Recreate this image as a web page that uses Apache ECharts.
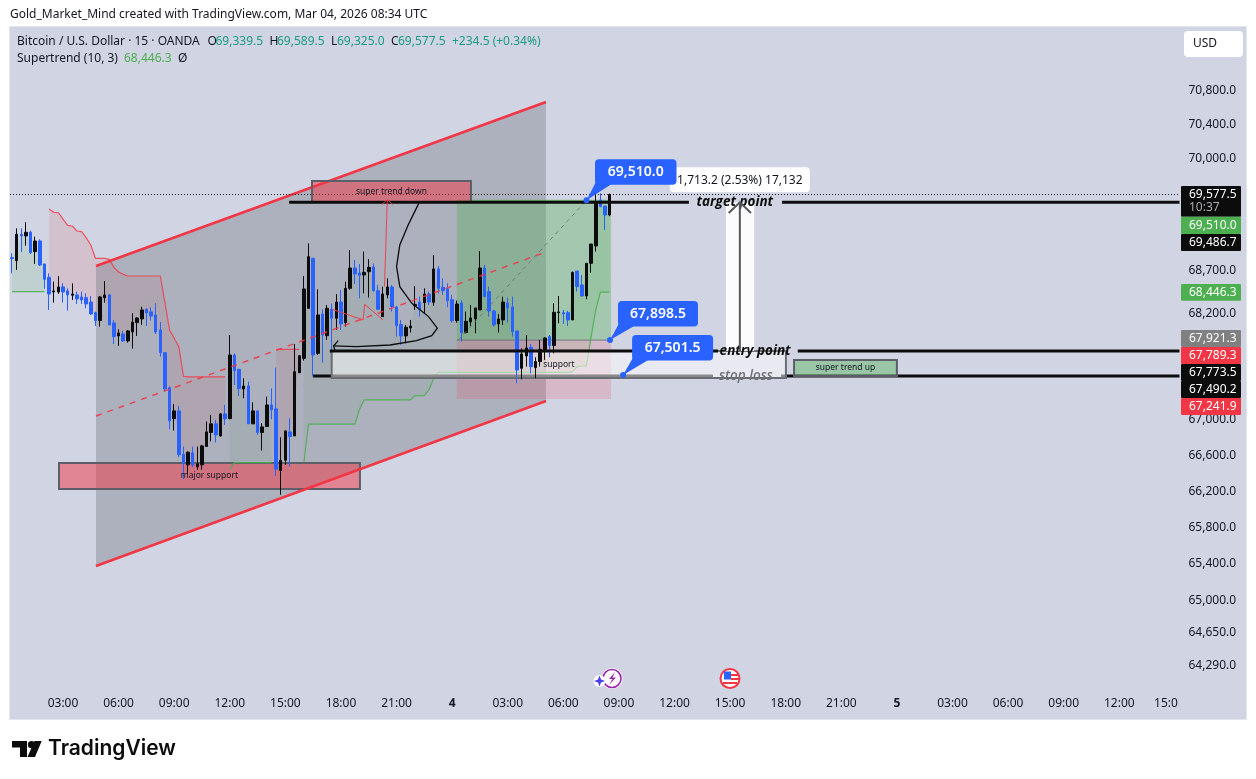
<!DOCTYPE html>
<html><head><meta charset="utf-8">
<style>html,body{margin:0;padding:0;background:#fff}#c{width:1256px;height:779px}</style>
<script src="https://cdn.jsdelivr.net/npm/echarts@6/dist/echarts.min.js"></script>
</head><body><div id="c"></div>
<script>
// [open, close, low, high] for the bars 00:15 Mar 3 .. 08:30 Mar 4 (15 min)
const candles = [
[68844,68833,68664,68895],[68810,69115,68702,69184],[69115,69095,68910,69184],[69095,69138,68983,69254],[69138,68902,68887,69157],
[68914,69037,68772,69088],[69037,68760,68748,69057],[68772,68595,68487,68772],[68618,68426,68243,68664],[68449,68461,68327,68568],
[68449,68507,68426,68633],[68507,68449,68327,68549],[68461,68415,68235,68491],[68411,68426,68357,68549],[68415,68369,68312,68453],
[68392,68357,68312,68453],[68384,68312,68262,68434],[68334,68197,68186,68403],[68212,68121,68060,68224],[68121,68392,68052,68403],
[68384,68415,68327,68575],[68415,68071,68071,68426],[68094,67938,67854,68128],[67946,67980,67832,68022],[67968,67889,67877,68003],
[67889,68003,67870,68014],[67991,68105,67801,68205],[68098,68151,67946,68159],[68140,68243,68071,68281],[68250,68208,68060,68262],
[68220,68174,68121,68273],[68186,67991,67968,68319],[68014,67756,67710,68105],[67756,67344,67314,67756],[67359,66985,66891,67371],
[67010,67097,66876,67175],[67097,66604,66578,67153],[66611,66511,66333,66697],[66492,66634,66388,66641],[66626,66489,66466,66697],
[66470,66503,66437,66697],[66492,66704,66437,66716],[66697,66861,66697,66977],[66854,66951,66753,67052],[66951,66827,66742,66996],
[66816,67063,66809,67071],[67063,67007,66939,67164],[67010,67729,67003,67957],[67729,67552,67389,67748],[67567,67348,67266,67567],
[67344,67378,67239,67465],[67378,66951,66951,67427],[66951,67097,66951,67194],[67097,66854,66827,67097],[66854,66917,66652,66958],
[66921,67164,66921,67258],[67164,67108,67003,67352],[67119,66444,66370,67586],[66429,66544,66159,66801],[66544,66872,66492,66876],
[66861,66809,66474,67014],[66816,67540,66816,67854],[67529,67721,67522,67721],[67691,68484,67665,68633],[68262,68856,68262,69010],
[68837,67730,67484,68837],[67748,68186,67730,68480],[68197,67957,67642,68250],[67949,68262,67900,68300],[68250,68148,67767,68319],
[68148,68334,68015,68426],[68334,68083,68015,68472],[68098,68491,68053,68568],[68491,68725,68472,68933],[68725,68656,68541,68817],
[68667,68641,68376,68771],[68645,68675,68434,68914],[68683,68733,68384,68829],[68737,68464,68453,68779],[68464,68250,68250,68530],
[68167,68426,68167,68510],[68415,68507,68376,68606],[68507,68281,68224,68530],[68277,68064,67938,68288],[68076,67946,67843,68129],
[67946,68045,67862,68072],[68037,68060,67984,68129],[68292,68307,68243,68518],[68334,68250,68167,68396],[68327,68426,68205,68491],
[68426,68334,68300,68453],[68330,68714,68288,68875],[68714,68491,68434,68748],[68503,68464,68415,68606],[68487,68350,68273,68549],
[68361,68121,68098,68415],[68121,68311,68098,68350],[68323,67984,67881,68357],[67984,68114,67976,68224],[68106,68152,68060,68300],
[68140,68266,67976,68266],[68243,68725,68243,68921],[68725,68396,68388,68760],[68453,68231,68167,68510],[68231,68072,68053,68243],
[68083,68140,67984,68197],[68129,68334,68072,68396],[68323,68266,68098,68384],[68277,67995,67938,68396],[68003,67559,67408,68007],
[67578,67741,67453,67805],[67718,67809,67597,67957],[67817,67597,67521,67855],[67586,67654,67465,67703],[67654,67794,67597,67900],
[67786,67923,67673,67930],[67938,67836,67703,67957],[67836,68216,67748,68319],[68212,68220,68091,68403],[68212,68197,68083,68243],
[68212,68129,68060,68235],[68129,68675,68129,68683],[68690,68510,68453,68690],[68530,68403,68396,68645],[68403,68779,68365,68779],
[68779,69002,68671,69002],[68979,69494,68914,69661],[69513,69435,69435,69591],[69443,69339,69165,69443],[69339.5,69577.5,69325,69589.5]
];
const n = null;
const supertrendDown = [n,n,n,n,n,n,n,n,
69409,69370,69366,69292,69219,69211,69153,69146,68991+85,68991,68837,68837,68837,68825,68733,68679,68652,
68633,68633,68633,68633,68633,68633,68633,68633,68327,68014,67919,67824,67488,
67480,67480,67480,67480,67480,67480,67480,67480,67480,
n,n,n,n,n,n,n,n,n,n,
67794,67794,67794,67794,67794,67794,
n,n];
const supertrendUp = [68453,68453,68453,68453,68453,68453,68453,68453,
n,n,n,n,n,n,n,n,n,n,n,n,n,n,n,n,n,n,n,n,n,n,n,n,n,n,n,n,n,n,n,n,n,n,n,n,n,n,n,
66437,66518,66518,66518,66518,66518,66518,66518,66518,66518,
n,n,n,n,n,n,
66518,66947,66947,66947,66947,66947,66947,66947,66947,66947,66947,66947,67114,
67220,67220,67220,67220,67220,67220,67220,67220,67220,67220,67220,
67269,67269,67269,67333,67465,
67532,67532,67532,67532,67532,67532,67532,67532,67532,67532,67532,67532,67532,67532,67532,
67532,67532,67532,67532,67532,67532,67532,67532,67532,67532,67532,67532,67532,67532,
67540,67597,67604,67604,67938,68243,68446.3,68446.3,68446.3];
const priceTicks = [70800,70400,70000,68700,68200,67000,66600,66200,65800,65400,65000,64650,64290];
const timeLabels = ['','03:00','06:00','09:00','12:00','15:00','18:00','21:00','4','03:00','06:00','09:00','12:00','15:00','18:00','21:00','5','03:00','06:00','09:00','12:00','15:0'];

// drawing tools, in [bar index, price]
const channelTop = [[19.12,68748],[116.25,70666]];
const channelBottom = [[19.12,65373],[116.25,67208]];
const channelMid = [[19.12,67039],[116.25,68910]];
const zoneX = [97.0,130.3];
const zonePrices = [69510,67898.5,67230];
const superDownBox = [[65.75,69735],[100.06,69490]];
const majorSupportBox = [[11.14,66512],[76.1,66223]];
const superUpBox = [[169.8,67673],[192.0,67490.2]];
const positionBox = [[70.0,67773.5],[168.05,67468]];
const closePrice = 69577.5, targetPrice = 69486.7, entryPrice = 67773.5, stopPrice = 67490.2;
const rangeBar = [155.1,161.2], rangeX = 158.1;
const curve = [[88.8,69474],[86.5,69223],[84.7,68991],[84.0,68741],[84.7,68510],[87.3,68319],[90.9,68167],[92.8,68034],[91.6,67949],[88.3,67892],[82.6,67843],[75.4,67824],[70.4,67832]];
const curveHead = [[71.4,67892],[70.4,67832],[70.7,67786]];
const redArrow = [[81.4,68510],[82.0,69516]];
const redArrowHead = [[80.8,69462],[82.0,69516],[83.2,69462]];
const zigzag = [[70.1,68250],[76.8,68129],[77.1,68307],[81.1,68129]];
const longDash = [[97.3,67898.5],[125.0,69510]];
const callouts = [
 {at:[125.0,69510],text:'69,510.0',dx:8.5,dy:-41,w:81.5},
 {at:[130.07,67898.5],text:'67,898.5',dx:8,dy:-39,w:80},
 {at:[132.9,67501.5],text:'67,501.5',dx:9,dy:-40,w:81}
];

const FONT = '"Noto Sans", sans-serif';
const INK = '#131722', BLUE = '#2962ff', RED = '#f23645', GREEN = '#4caf50', BLACK = '#0c0c0c';

function layer(z, build){
  return {type:'custom',coordinateSystem:'cartesian2d',z:z,silent:true,clip:false,data:[[0,70000]],encode:{x:0,y:1},
    renderItem:(p,api)=>({type:'group',children:build(c=>api.coord(c))})};
}
const line=(P,pts,color,w,dash)=>({type:'polyline',shape:{points:pts.map(P)},style:{fill:null,stroke:color,lineWidth:w,lineDash:dash||null}});
const poly=(P,pts,fill)=>({type:'polygon',shape:{points:pts.map(P)},style:{fill:fill}});
function box(P,b,fill,stroke,w){
  const a=P(b[0]),c=P(b[1]);
  return {type:'rect',shape:{x:a[0],y:a[1],width:c[0]-a[0],height:c[1]-a[1]},style:{fill:fill,stroke:stroke||null,lineWidth:w||0}};
}
function label(P,at,text,font,fill){
  const a=P(at);
  return {type:'text',style:{x:a[0],y:a[1],text:text,font:font,fill:fill,textAlign:'center',textVerticalAlign:'middle'}};
}
function stFill(P,arr,color){
  const out=[];let seg=[];
  const flush=()=>{ if(seg.length>1){
      const top=seg.map(k=>[k+1,arr[k]]);
      const bot=seg.slice().reverse().map(k=>[k+1,(candles[k][0]+candles[k][1])/2]);
      out.push(poly(P,top.concat(bot),color));
    } seg=[]; };
  arr.forEach((v,k)=>{ if(v===null||v===undefined) flush(); else seg.push(k); });
  flush();
  return out;
}

const bottomLayer = layer(2,P=>[
  ...stFill(P,supertrendDown,'rgba(242,54,69,0.12)'),
  ...stFill(P,supertrendUp,'rgba(76,175,80,0.12)'),
  poly(P,[channelTop[0],channelTop[1],channelBottom[1],channelBottom[0]],'rgba(120,123,134,0.4)'),
  box(P,[[zoneX[0],zonePrices[0]],[zoneX[1],zonePrices[1]]],'rgba(76,175,80,0.35)'),
  box(P,[[zoneX[0],zonePrices[1]],[zoneX[1],zonePrices[2]]],'rgba(242,54,69,0.17)'),
  line(P,[[zoneX[0],zonePrices[0]],[zoneX[1],zonePrices[0]]],'rgba(76,175,80,0.7)',1),
  line(P,[[zoneX[0],zonePrices[1]],[zoneX[1],zonePrices[1]]],'rgba(110,110,120,0.9)',1),
  box(P,majorSupportBox,'rgba(242,54,69,0.5)','#5d5f68',2)
]);
const stopLayer = layer(4,P=>[
  line(P,[[66.0,stopPrice],[152.3,stopPrice]],BLACK,3),
  line(P,[[167.0,stopPrice],[253,stopPrice]],BLACK,3),
  box(P,positionBox,'rgba(255,255,255,0.52)','#6b6d75',2),
  label(P,[159.4,stopPrice],'stop loss','italic 600 13.5px "Open Sans",sans-serif','#6f7177')
]);
const topLayer = layer(6,P=>{
  const tip=P([rangeX,targetPrice]);
  return [
  line(P,channelTop,RED,2.5),
  line(P,channelBottom,RED,2.5),
  line(P,channelMid,'rgba(242,54,69,0.85)',1.5,[6,6]),
  line(P,longDash,'rgba(110,113,124,0.85)',1,[4,4]),
  line(P,[[0.56,closePrice],[253,closePrice]],BLACK,1,[1,2]),
  box(P,superDownBox,'rgba(242,54,69,0.5)','#5d5f68',2),
  label(P,[82.9,69612],'super trend down','8.5px '+FONT,INK),
  label(P,[43.6,66367],'major support','8.5px '+FONT,INK),
  label(P,[119.05,67615],'support','8.5px '+FONT,INK),
  line(P,[[60.8,targetPrice],[147.1,targetPrice]],BLACK,3),
  line(P,[[167.2,targetPrice],[253,targetPrice]],BLACK,3),
  line(P,[[69.6,entryPrice],[153.4,entryPrice]],BLACK,3),
  line(P,[[170.6,entryPrice],[253,entryPrice]],BLACK,3),
  box(P,[[rangeBar[0],targetPrice],[rangeBar[1],entryPrice]],'rgba(255,255,255,0.9)'),
  label(P,[157.0,targetPrice],'target point','italic 700 13.5px "Open Sans",sans-serif',BLACK),
  label(P,[161.4,entryPrice],'entry point','italic 700 13.5px "Open Sans",sans-serif',BLACK),
  line(P,[[rangeX,entryPrice],[rangeX,targetPrice]],'#55565c',2),
  line(P,[[155.7,69362],[rangeX,targetPrice],[160.5,69362]],'#55565c',2),
  box(P,superUpBox,'rgba(76,175,80,0.4)','#5d5f68',2),
  label(P,[180.9,67581],'super trend up','8.5px '+FONT,INK),
  line(P,curve,BLACK,1.3),
  line(P,curveHead,BLACK,1.3),
  line(P,redArrow,'rgba(242,54,69,0.9)',1),
  line(P,redArrowHead,'rgba(242,54,69,0.9)',1),
  line(P,zigzag,'rgba(242,54,69,0.9)',1),
  {type:'rect',shape:{x:tip[0]-70,y:tip[1]-35,width:140,height:25,r:4},style:{fill:'#fff'}},
  {type:'text',style:{x:tip[0],y:tip[1]-22,text:'1,713.2 (2.53%) 17,132',font:'12px '+FONT,fill:INK,textAlign:'center',textVerticalAlign:'middle'}},
  ...callouts.flatMap(c=>{
    const a=P(c.at), bx=a[0]+c.dx, by=a[1]+c.dy, h=25.5;
    return [
      {type:'polygon',shape:{points:[[a[0],a[1]],[bx+1,by+h-3],[bx+17,by+h-1]]},style:{fill:BLUE}},
      {type:'rect',shape:{x:bx,y:by,width:c.w,height:h,r:4},style:{fill:BLUE}},
      {type:'circle',shape:{cx:a[0],cy:a[1],r:3},style:{fill:BLUE}},
      {type:'text',style:{x:bx+c.w/2,y:by+h/2,text:c.text,font:'600 14px '+FONT,fill:'#fff',textAlign:'center',textVerticalAlign:'middle'}}
    ];
  })
];});

function t(x,y,text,fill,font,extra){
  return Object.assign({type:'text',z:100,silent:true,x:x,y:y,style:{text:text,fill:fill||INK,font:font||('12px '+FONT),verticalAlign:'middle',align:'left'}},extra||{});
}
function tag(y0,y1,color,text,sub){
  const h=y1-y0;
  const els=[{type:'rect',z:90,silent:true,shape:{x:1181,y:y0,width:60,height:h,r:1},style:{fill:color}}];
  els.push(t(1189,sub?y0+8.5:y0+h/2,text,'#fff','12px '+FONT,{z:100}));
  if(sub) els.push(t(1189,y0+22,sub,'#a9abb0','12px '+FONT));
  return els;
}
const TEAL='#1a9b86';
const graphics=[
  {type:'rect',z:-10,silent:true,shape:{x:9.5,y:26.5,width:1237,height:693},style:{fill:'#d1d4e2',stroke:'#e4e6ee',lineWidth:1}},
  t(10,15,'Gold_Market_Mind created with TradingView.com, Mar 04, 2026 08:34 UTC'),
  t(17,42,'Bitcoin / U.S. Dollar · 15 · OANDA'),
  t(207.5,42,'O'),t(215.5,42,'69,339.5',TEAL),
  t(269.5,42,'H'),t(277,42,'69,589.5',TEAL),
  t(331,42,'L'),t(337,42,'69,325.0',TEAL),
  t(391,42,'C'),t(398,42,'69,577.5',TEAL),
  t(452,42,'+234.5 (+0.34%)',TEAL),
  t(17,59,'Supertrend (10, 3)'),t(124,59,'68,446.3',GREEN),t(178,59,'Ø'),
  {type:'rect',z:90,silent:true,shape:{x:1184,y:31,width:59,height:26,r:4},style:{fill:'#fff'}},
  t(1193,44,'USD'),
  ...tag(186,216.7,BLACK,'69,577.5','10:37'),
  ...tag(216.7,234,GREEN,'69,510.0'),
  ...tag(234,251,BLACK,'69,486.7'),
  ...tag(284,300.7,GREEN,'68,446.3'),
  ...tag(330,347,'#808080','67,921.3'),
  ...tag(347,364,RED,'67,789.3'),
  ...tag(364,381,BLACK,'67,773.5'),
  ...tag(381,398,BLACK,'67,490.2'),
  ...tag(398,415,RED,'67,241.9'),
  // TradingView mark
  {type:'polygon',z:100,silent:true,shape:{points:[[12,741],[27,741],[27,757],[20,757],[20,747.5],[12,747.5]]},style:{fill:BLACK}},
  {type:'circle',z:100,silent:true,shape:{cx:31.5,cy:744.7,r:3.6},style:{fill:BLACK}},
  {type:'polygon',z:100,silent:true,shape:{points:[[34.5,741],[41.7,741],[35,757],[27.5,757]]},style:{fill:BLACK}},
  t(48,749,'TradingView',BLACK,'600 21px Inter,sans-serif'),
  // event icons
  {type:'circle',z:100,silent:true,shape:{cx:612,cy:678.5,r:10.5},style:{fill:'#fff'}},
  {type:'circle',z:100,silent:true,shape:{cx:612,cy:678.5,r:9},style:{fill:'none',stroke:'#9c27b0',lineWidth:1.6}},
  {type:'polygon',z:100,silent:true,shape:{points:[[615,672],[609,679],[612.5,679],[609,685],[616,677.5],[612.5,677.5]]},style:{fill:'#9c27b0'}},
  {type:'circle',z:100,silent:true,shape:{cx:599.5,cy:681,r:6},style:{fill:'#fff'}},
  {type:'polygon',z:100,silent:true,shape:{points:[[599.5,675.5],[601,679.5],[605,681],[601,682.5],[599.5,686.5],[598,682.5],[594,681],[598,679.5]]},style:{fill:'#4a3df0'}},
  {type:'circle',z:100,silent:true,shape:{cx:730,cy:678.5,r:9.5},style:{fill:'#fff',stroke:RED,lineWidth:2}},
  {type:'rect',z:100,silent:true,shape:{x:731,y:674,width:7,height:2},style:{fill:RED}},
  {type:'rect',z:100,silent:true,shape:{x:731,y:678,width:8,height:2},style:{fill:RED}},
  {type:'rect',z:100,silent:true,shape:{x:723,y:682,width:14,height:2},style:{fill:RED}},
  {type:'rect',z:100,silent:true,shape:{x:724,y:671.5,width:7,height:8},style:{fill:'#2962ff'}}
];

const chart=echarts.init(document.getElementById('c'),null,{renderer:'canvas'});
chart.setOption({
  animation:false,
  backgroundColor:'#fff',
  graphic:{elements:graphics},
  grid:{left:7.4,right:76.5,top:28,bottom:89,containLabel:false},
  tooltip:{show:false},
  xAxis:{type:'value',min:0,max:253,interval:12,splitLine:{show:false},axisLine:{show:false},axisTick:{show:false},
    axisLabel:{margin:8,showMinLabel:true,showMaxLabel:true,hideOverlap:false,fontFamily:'"Noto Sans",sans-serif',fontSize:12,color:INK,
      formatter:v=>{const s=timeLabels[Math.round(v/12)]||''; if(s==='15:0')return '{e|15:0}'; return s.length===1?'{d|'+s+'}':s;},
      rich:{d:{fontWeight:'bold',fontSize:12,fontFamily:'"Noto Sans",sans-serif',color:INK},e:{fontSize:12,fontFamily:'"Noto Sans",sans-serif',color:INK,padding:[0,27,0,0]}}}},
  yAxis:{type:'log',logBase:10,min:64027,max:71549,position:'right',splitLine:{show:false},axisLine:{show:false},axisTick:{show:false},minorTick:{show:false},
    axisLabel:{customValues:priceTicks,margin:9,fontFamily:'"Noto Sans",sans-serif',fontSize:12,color:INK,
      formatter:v=>Number(v).toLocaleString('en-US',{minimumFractionDigits:1,maximumFractionDigits:1})}},
  series:[
    bottomLayer,
    {type:'line',z:3,silent:true,showSymbol:false,connectNulls:false,data:supertrendDown.map((v,k)=>[k+1,v]),lineStyle:{color:'rgba(242,54,69,0.8)',width:1.2}},
    {type:'line',z:3,silent:true,showSymbol:false,connectNulls:false,data:supertrendUp.map((v,k)=>[k+1,v]),lineStyle:{color:'rgba(76,175,80,0.9)',width:1.2}},
    stopLayer,
    {type:'candlestick',z:5,silent:true,barWidth:3,data:candles.map((c,k)=>[k+1,c[0],c[1],c[2],c[3]]),encode:{x:0,y:[1,2,3,4]},
     itemStyle:{color:BLACK,color0:BLUE,borderColor:BLACK,borderColor0:BLUE,borderWidth:1}},
    topLayer
  ]
});
</script></body></html>
